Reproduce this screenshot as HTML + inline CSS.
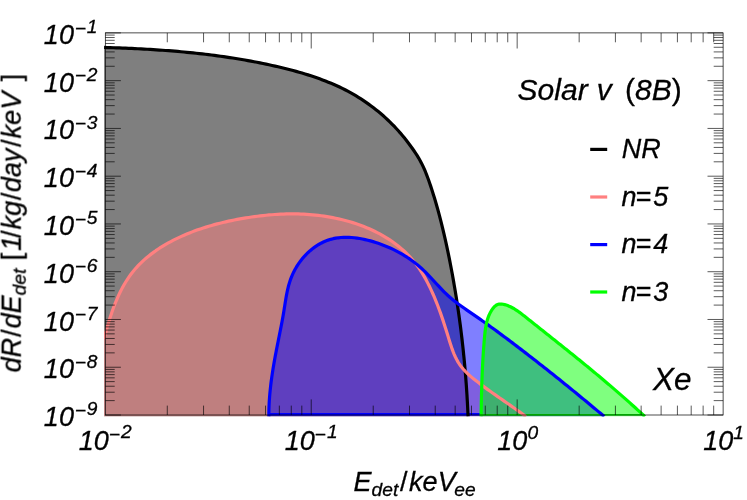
<!DOCTYPE html>
<html><head><meta charset="utf-8"><title>Solar nu 8B Xe</title>
<style>
html,body{margin:0;padding:0;background:#fff;}
body{width:747px;height:500px;overflow:hidden;}
svg{display:block;}
text{font-family:"Liberation Sans",sans-serif;font-style:italic;fill:#000;stroke:#000;stroke-width:0.3px;}
.up{font-style:normal;}
</style></head><body>
<svg width="747" height="500" viewBox="0 0 747 500">
<rect x="0" y="0" width="747" height="500" fill="#fff"/>
<defs><clipPath id="cp"><rect x="104.10" y="32.90" width="620.20" height="383.70"/></clipPath></defs>
<g clip-path="url(#cp)">
<path d="M103.94,47.43 L107.03,47.53 L110.12,47.63 L113.21,47.73 L116.30,47.84 L119.39,47.95 L122.48,48.07 L125.57,48.20 L128.65,48.33 L131.73,48.47 L134.82,48.62 L137.90,48.77 L140.98,48.93 L144.06,49.09 L147.14,49.27 L150.21,49.45 L153.29,49.64 L156.36,49.84 L159.44,50.04 L162.51,50.26 L165.58,50.48 L168.65,50.71 L171.72,50.95 L174.78,51.20 L177.85,51.46 L180.91,51.73 L183.97,52.01 L187.03,52.30 L190.09,52.60 L193.15,52.91 L196.21,53.23 L199.26,53.57 L202.31,53.91 L205.37,54.27 L208.42,54.63 L211.46,55.01 L214.51,55.41 L217.56,55.81 L220.60,56.23 L223.64,56.65 L226.68,57.10 L229.72,57.55 L232.76,58.02 L235.80,58.50 L238.83,59.00 L241.86,59.51 L244.89,60.04 L247.92,60.57 L250.95,61.13 L253.98,61.70 L257.00,62.28 L260.02,62.88 L263.04,63.50 L266.06,64.13 L269.08,64.77 L272.09,65.44 L275.11,66.12 L278.12,66.81 L281.13,67.52 L284.13,68.25 L287.14,69.00 L290.13,69.77 L293.13,70.56 L296.12,71.38 L299.10,72.21 L302.07,73.08 L305.03,73.96 L307.99,74.88 L310.93,75.82 L313.86,76.79 L316.78,77.80 L319.68,78.83 L322.57,79.90 L325.45,81.00 L328.31,82.14 L331.15,83.32 L333.97,84.53 L336.78,85.78 L339.56,87.07 L342.32,88.40 L345.06,89.78 L347.78,91.20 L350.47,92.66 L353.14,94.17 L355.79,95.72 L358.41,97.31 L361.00,98.95 L363.56,100.63 L366.10,102.35 L368.61,104.12 L371.09,105.92 L373.54,107.77 L375.96,109.66 L378.35,111.59 L380.71,113.56 L383.03,115.57 L385.32,117.62 L387.58,119.71 L389.81,121.85 L391.99,124.02 L394.15,126.23 L396.26,128.48 L398.34,130.77 L400.39,133.09 L402.39,135.46 L404.35,137.86 L406.28,140.29 L408.17,142.76 L410.03,145.25 L411.85,147.76 L413.64,150.29 L415.38,152.84 L417.06,155.42 L418.67,158.04 L420.19,160.70 L421.61,163.40 L422.95,166.15 L424.22,168.93 L425.42,171.74 L426.55,174.58 L427.64,177.45 L428.68,180.33 L429.69,183.23 L430.68,186.14 L431.64,189.05 L432.58,191.98 L433.50,194.91 L434.41,197.84 L435.29,200.79 L436.16,203.74 L437.01,206.70 L437.84,209.66 L438.65,212.63 L439.45,215.60 L440.23,218.58 L441.00,221.56 L441.75,224.55 L442.48,227.55 L443.20,230.54 L443.91,233.54 L444.60,236.55 L445.29,239.56 L445.95,242.57 L446.61,245.58 L447.25,248.60 L447.89,251.62 L448.51,254.64 L449.12,257.66 L449.72,260.68 L450.32,263.71 L450.90,266.74 L451.47,269.76 L452.04,272.79 L452.59,275.82 L453.14,278.85 L453.67,281.89 L454.20,284.92 L454.72,287.96 L455.22,290.99 L455.72,294.03 L456.21,297.07 L456.69,300.11 L457.16,303.15 L457.62,306.20 L458.07,309.24 L458.51,312.29 L458.94,315.34 L459.37,318.38 L459.78,321.43 L460.19,324.48 L460.58,327.53 L460.97,330.59 L461.34,333.64 L461.71,336.70 L462.07,339.75 L462.42,342.81 L462.76,345.87 L463.09,348.93 L463.41,351.99 L463.72,355.05 L464.03,358.12 L464.32,361.18 L464.60,364.24 L464.88,367.31 L465.15,370.38 L465.40,373.45 L465.65,376.52 L465.89,379.59 L466.12,382.66 L466.34,385.73 L466.56,388.81 L466.76,391.88 L466.96,394.96 L467.14,398.04 L467.32,401.11 L467.48,404.19 L467.64,407.27 L467.79,410.36 L467.93,413.44 L468.07,416.52 L104,416.5 Z" fill="#000" fill-opacity="0.5"/>
<path d="M104.03,338.86 L104.74,336.13 L105.48,333.39 L106.23,330.63 L107.01,327.86 L107.82,325.07 L108.65,322.28 L109.51,319.48 L110.40,316.68 L111.33,313.89 L112.29,311.09 L113.29,308.31 L114.33,305.55 L115.41,302.79 L116.54,300.06 L117.71,297.35 L118.93,294.66 L120.20,292.01 L121.53,289.39 L122.91,286.80 L124.35,284.26 L125.85,281.75 L127.41,279.29 L129.03,276.89 L130.72,274.53 L132.48,272.24 L134.31,270.00 L136.20,267.82 L138.16,265.69 L140.18,263.63 L142.26,261.62 L144.40,259.66 L146.59,257.76 L148.83,255.91 L151.12,254.12 L153.46,252.38 L155.84,250.68 L158.26,249.04 L160.71,247.45 L163.21,245.90 L165.73,244.41 L168.29,242.96 L170.87,241.55 L173.47,240.20 L176.10,238.88 L178.75,237.61 L181.41,236.38 L184.09,235.19 L186.79,234.05 L189.49,232.94 L192.21,231.88 L194.95,230.85 L197.69,229.86 L200.45,228.90 L203.22,227.98 L206.00,227.10 L208.79,226.25 L211.59,225.43 L214.40,224.65 L217.21,223.90 L220.04,223.18 L222.87,222.48 L225.72,221.82 L228.57,221.18 L231.42,220.58 L234.28,220.00 L237.15,219.44 L240.02,218.91 L242.90,218.40 L245.78,217.92 L248.66,217.46 L251.55,217.02 L254.44,216.61 L257.34,216.23 L260.23,215.87 L263.13,215.54 L266.04,215.24 L268.94,214.96 L271.85,214.72 L274.75,214.51 L277.66,214.32 L280.57,214.17 L283.48,214.05 L286.39,213.97 L289.30,213.92 L292.21,213.90 L295.12,213.92 L298.03,213.97 L300.94,214.06 L303.85,214.18 L306.75,214.35 L309.65,214.55 L312.56,214.79 L315.45,215.07 L318.35,215.39 L321.24,215.76 L324.14,216.16 L327.02,216.61 L329.91,217.10 L332.78,217.63 L335.66,218.21 L338.53,218.83 L341.39,219.50 L344.25,220.22 L347.10,220.98 L349.93,221.79 L352.75,222.65 L355.56,223.56 L358.35,224.51 L361.12,225.51 L363.87,226.57 L366.59,227.67 L369.29,228.82 L371.97,230.03 L374.61,231.28 L377.23,232.59 L379.82,233.95 L382.37,235.36 L384.88,236.83 L387.36,238.35 L389.80,239.92 L392.20,241.55 L394.55,243.24 L396.86,244.98 L399.13,246.77 L401.34,248.63 L403.51,250.54 L405.62,252.50 L407.68,254.53 L409.68,256.61 L411.63,258.76 L413.51,260.96 L415.34,263.22 L417.10,265.54 L418.80,267.92 L420.44,270.36 L422.02,272.84 L423.55,275.36 L425.02,277.92 L426.44,280.51 L427.81,283.13 L429.14,285.77 L430.42,288.43 L431.66,291.10 L432.86,293.77 L434.03,296.45 L435.15,299.14 L436.25,301.83 L437.32,304.52 L438.35,307.23 L439.36,309.94 L440.35,312.66 L441.31,315.39 L442.25,318.13 L443.18,320.88 L444.09,323.64 L444.98,326.41 L445.87,329.19 L446.74,331.99 L447.61,334.80 L448.47,337.63 L449.33,340.46 L450.21,343.29 L451.13,346.11 L452.09,348.90 L453.11,351.65 L454.21,354.36 L455.40,357.01 L456.69,359.59 L458.10,362.10 L459.64,364.51 L461.33,366.82 L463.15,369.03 L465.10,371.16 L467.15,373.21 L469.28,375.18 L471.50,377.10 L473.76,378.97 L476.07,380.80 L478.41,382.60 L480.75,384.38 L483.10,386.14 L485.46,387.87 L487.83,389.59 L490.21,391.30 L492.59,393.00 L494.97,394.68 L497.36,396.36 L499.75,398.03 L502.15,399.69 L504.54,401.36 L506.93,403.02 L509.33,404.68 L511.72,406.35 L514.10,408.02 L516.49,409.71 L518.87,411.40 L521.24,413.10 L523.61,414.82 L525.97,416.55 L104,416.5 Z" fill="#ff8080" fill-opacity="0.5"/>
<path d="M268.86,416.50 L268.86,413.82 L268.89,411.15 L268.96,408.47 L269.06,405.80 L269.18,403.13 L269.34,400.46 L269.52,397.79 L269.73,395.13 L269.97,392.46 L270.23,389.80 L270.52,387.14 L270.82,384.48 L271.15,381.82 L271.50,379.17 L271.87,376.52 L272.26,373.87 L272.67,371.22 L273.09,368.57 L273.52,365.93 L273.97,363.29 L274.44,360.65 L274.91,358.02 L275.40,355.39 L275.90,352.76 L276.40,350.13 L276.92,347.50 L277.44,344.88 L277.96,342.26 L278.49,339.64 L279.01,337.03 L279.54,334.41 L280.06,331.79 L280.58,329.17 L281.10,326.55 L281.60,323.92 L282.10,321.30 L282.58,318.66 L283.05,316.03 L283.50,313.39 L283.94,310.74 L284.36,308.09 L284.77,305.44 L285.19,302.79 L285.61,300.14 L286.06,297.49 L286.54,294.85 L287.06,292.23 L287.62,289.62 L288.25,287.02 L288.94,284.44 L289.72,281.89 L290.57,279.36 L291.53,276.85 L292.59,274.38 L293.74,271.94 L295.00,269.55 L296.34,267.20 L297.78,264.90 L299.31,262.65 L300.92,260.47 L302.61,258.36 L304.38,256.32 L306.23,254.35 L308.15,252.47 L310.14,250.68 L312.19,248.98 L314.31,247.37 L316.49,245.87 L318.73,244.48 L321.03,243.20 L323.37,242.04 L325.76,241.01 L328.20,240.10 L330.68,239.33 L333.21,238.69 L335.76,238.17 L338.35,237.79 L340.96,237.51 L343.60,237.36 L346.26,237.31 L348.93,237.36 L351.62,237.51 L354.31,237.76 L357.01,238.09 L359.70,238.50 L362.40,238.99 L365.08,239.56 L367.76,240.19 L370.41,240.89 L373.05,241.64 L375.67,242.45 L378.26,243.30 L380.82,244.20 L383.35,245.15 L385.85,246.14 L388.32,247.18 L390.76,248.27 L393.17,249.40 L395.56,250.59 L397.91,251.82 L400.23,253.09 L402.52,254.42 L404.77,255.79 L407.00,257.21 L409.19,258.68 L411.35,260.20 L413.48,261.77 L415.57,263.38 L417.63,265.05 L419.65,266.76 L421.64,268.52 L423.60,270.33 L425.52,272.19 L427.42,274.10 L429.28,276.03 L431.13,278.00 L432.97,279.98 L434.80,281.97 L436.63,283.97 L438.46,285.95 L440.31,287.93 L442.17,289.88 L444.05,291.80 L445.97,293.68 L447.92,295.51 L449.91,297.29 L451.93,299.01 L454.00,300.69 L456.09,302.33 L458.21,303.92 L460.36,305.49 L462.52,307.04 L464.70,308.56 L466.89,310.08 L469.09,311.59 L471.28,313.09 L473.48,314.60 L475.67,316.12 L477.86,317.64 L480.05,319.18 L482.23,320.71 L484.41,322.26 L486.58,323.81 L488.76,325.37 L490.93,326.94 L493.09,328.51 L495.25,330.08 L497.41,331.66 L499.57,333.25 L501.72,334.84 L503.87,336.44 L506.02,338.04 L508.17,339.65 L510.31,341.26 L512.45,342.87 L514.58,344.49 L516.71,346.11 L518.84,347.74 L520.97,349.37 L523.10,351.00 L525.22,352.63 L527.34,354.27 L529.46,355.91 L531.57,357.55 L533.68,359.20 L535.79,360.85 L537.90,362.49 L540.00,364.15 L542.11,365.80 L544.21,367.46 L546.30,369.11 L548.40,370.77 L550.49,372.44 L552.59,374.10 L554.67,375.77 L556.76,377.44 L558.85,379.11 L560.93,380.78 L563.01,382.46 L565.09,384.14 L567.17,385.82 L569.24,387.51 L571.32,389.19 L573.39,390.88 L575.46,392.57 L577.53,394.27 L579.60,395.97 L581.66,397.66 L583.73,399.37 L585.79,401.07 L587.85,402.78 L589.91,404.49 L591.96,406.20 L594.02,407.92 L596.08,409.64 L598.13,411.36 L600.18,413.08 L602.23,414.81 L604.28,416.54 Z" fill="#0000ff" fill-opacity="0.5"/>
<path d="M481.08,416.53 L481.11,414.99 L481.13,413.44 L481.15,411.90 L481.18,410.36 L481.20,408.82 L481.23,407.29 L481.26,405.76 L481.29,404.22 L481.32,402.70 L481.35,401.17 L481.38,399.65 L481.42,398.12 L481.45,396.60 L481.49,395.08 L481.53,393.56 L481.57,392.05 L481.61,390.53 L481.65,389.02 L481.70,387.50 L481.75,385.99 L481.79,384.48 L481.85,382.97 L481.90,381.45 L481.95,379.94 L482.01,378.43 L482.07,376.92 L482.13,375.41 L482.19,373.90 L482.26,372.39 L482.32,370.88 L482.39,369.37 L482.46,367.86 L482.54,366.35 L482.62,364.84 L482.69,363.32 L482.78,361.81 L482.86,360.29 L482.95,358.78 L483.04,357.26 L483.13,355.74 L483.23,354.22 L483.33,352.70 L483.43,351.18 L483.53,349.65 L483.64,348.13 L483.75,346.60 L483.87,345.07 L483.98,343.53 L484.10,342.00 L484.23,340.46 L484.36,338.92 L484.49,337.38 L484.63,335.83 L484.77,334.29 L484.94,332.75 L485.12,331.21 L485.32,329.68 L485.54,328.16 L485.79,326.64 L486.07,325.13 L486.38,323.64 L486.73,322.15 L487.12,320.68 L487.55,319.23 L488.03,317.80 L488.56,316.38 L489.14,314.98 L489.78,313.61 L490.47,312.26 L491.23,310.93 L492.06,309.63 L492.95,308.37 L493.92,307.19 L494.98,306.14 L496.12,305.25 L497.35,304.58 L498.68,304.15 L500.10,303.98 L501.58,304.03 L503.10,304.26 L504.63,304.62 L506.14,305.08 L507.62,305.60 L509.06,306.18 L510.46,306.81 L511.84,307.49 L513.18,308.22 L514.50,308.99 L515.79,309.79 L517.06,310.62 L518.32,311.49 L519.55,312.37 L520.78,313.28 L521.99,314.21 L523.19,315.14 L524.39,316.09 L525.59,317.04 L526.78,317.99 L527.97,318.94 L529.17,319.89 L530.36,320.84 L531.56,321.79 L532.75,322.74 L533.95,323.69 L535.14,324.64 L536.33,325.59 L537.53,326.54 L538.72,327.49 L539.92,328.44 L541.11,329.39 L542.31,330.33 L543.50,331.28 L544.69,332.23 L545.89,333.18 L547.08,334.13 L548.27,335.08 L549.46,336.03 L550.66,336.98 L551.85,337.93 L553.04,338.88 L554.23,339.83 L555.42,340.78 L556.61,341.73 L557.80,342.68 L558.99,343.63 L560.18,344.58 L561.37,345.53 L562.56,346.48 L563.75,347.43 L564.94,348.39 L566.13,349.34 L567.31,350.29 L568.50,351.25 L569.68,352.20 L570.87,353.16 L572.06,354.11 L573.24,355.07 L574.42,356.03 L575.61,356.98 L576.79,357.94 L577.97,358.90 L579.15,359.86 L580.33,360.82 L581.51,361.78 L582.69,362.75 L583.87,363.71 L585.05,364.67 L586.22,365.64 L587.40,366.60 L588.58,367.57 L589.75,368.54 L590.92,369.51 L592.10,370.47 L593.27,371.45 L594.44,372.42 L595.61,373.39 L596.78,374.36 L597.95,375.34 L599.12,376.31 L600.28,377.29 L601.45,378.27 L602.61,379.25 L603.78,380.23 L604.94,381.21 L606.10,382.19 L607.26,383.18 L608.42,384.16 L609.58,385.15 L610.74,386.14 L611.89,387.13 L613.05,388.12 L614.20,389.11 L615.36,390.11 L616.51,391.10 L617.66,392.10 L618.81,393.10 L619.96,394.10 L621.10,395.10 L622.25,396.11 L623.39,397.11 L624.54,398.12 L625.68,399.13 L626.82,400.14 L627.96,401.15 L629.09,402.16 L630.23,403.18 L631.36,404.20 L632.50,405.22 L633.63,406.24 L634.76,407.26 L635.89,408.28 L637.02,409.31 L638.14,410.34 L639.27,411.37 L640.39,412.40 L641.51,413.44 L642.63,414.48 L643.75,415.52 L644.87,416.56 Z" fill="#00ff00" fill-opacity="0.5"/>
<g fill="none" stroke-width="3.2" stroke-linejoin="round">
<path d="M268.9,414.3 L481.1,414.3" stroke="#0000ff" stroke-width="2.6"/>
<path d="M481.1,414.8 L644,414.8" stroke="#00ff00" stroke-width="1.6"/>
<path d="M103.94,47.43 L107.03,47.53 L110.12,47.63 L113.21,47.73 L116.30,47.84 L119.39,47.95 L122.48,48.07 L125.57,48.20 L128.65,48.33 L131.73,48.47 L134.82,48.62 L137.90,48.77 L140.98,48.93 L144.06,49.09 L147.14,49.27 L150.21,49.45 L153.29,49.64 L156.36,49.84 L159.44,50.04 L162.51,50.26 L165.58,50.48 L168.65,50.71 L171.72,50.95 L174.78,51.20 L177.85,51.46 L180.91,51.73 L183.97,52.01 L187.03,52.30 L190.09,52.60 L193.15,52.91 L196.21,53.23 L199.26,53.57 L202.31,53.91 L205.37,54.27 L208.42,54.63 L211.46,55.01 L214.51,55.41 L217.56,55.81 L220.60,56.23 L223.64,56.65 L226.68,57.10 L229.72,57.55 L232.76,58.02 L235.80,58.50 L238.83,59.00 L241.86,59.51 L244.89,60.04 L247.92,60.57 L250.95,61.13 L253.98,61.70 L257.00,62.28 L260.02,62.88 L263.04,63.50 L266.06,64.13 L269.08,64.77 L272.09,65.44 L275.11,66.12 L278.12,66.81 L281.13,67.52 L284.13,68.25 L287.14,69.00 L290.13,69.77 L293.13,70.56 L296.12,71.38 L299.10,72.21 L302.07,73.08 L305.03,73.96 L307.99,74.88 L310.93,75.82 L313.86,76.79 L316.78,77.80 L319.68,78.83 L322.57,79.90 L325.45,81.00 L328.31,82.14 L331.15,83.32 L333.97,84.53 L336.78,85.78 L339.56,87.07 L342.32,88.40 L345.06,89.78 L347.78,91.20 L350.47,92.66 L353.14,94.17 L355.79,95.72 L358.41,97.31 L361.00,98.95 L363.56,100.63 L366.10,102.35 L368.61,104.12 L371.09,105.92 L373.54,107.77 L375.96,109.66 L378.35,111.59 L380.71,113.56 L383.03,115.57 L385.32,117.62 L387.58,119.71 L389.81,121.85 L391.99,124.02 L394.15,126.23 L396.26,128.48 L398.34,130.77 L400.39,133.09 L402.39,135.46 L404.35,137.86 L406.28,140.29 L408.17,142.76 L410.03,145.25 L411.85,147.76 L413.64,150.29 L415.38,152.84 L417.06,155.42 L418.67,158.04 L420.19,160.70 L421.61,163.40 L422.95,166.15 L424.22,168.93 L425.42,171.74 L426.55,174.58 L427.64,177.45 L428.68,180.33 L429.69,183.23 L430.68,186.14 L431.64,189.05 L432.58,191.98 L433.50,194.91 L434.41,197.84 L435.29,200.79 L436.16,203.74 L437.01,206.70 L437.84,209.66 L438.65,212.63 L439.45,215.60 L440.23,218.58 L441.00,221.56 L441.75,224.55 L442.48,227.55 L443.20,230.54 L443.91,233.54 L444.60,236.55 L445.29,239.56 L445.95,242.57 L446.61,245.58 L447.25,248.60 L447.89,251.62 L448.51,254.64 L449.12,257.66 L449.72,260.68 L450.32,263.71 L450.90,266.74 L451.47,269.76 L452.04,272.79 L452.59,275.82 L453.14,278.85 L453.67,281.89 L454.20,284.92 L454.72,287.96 L455.22,290.99 L455.72,294.03 L456.21,297.07 L456.69,300.11 L457.16,303.15 L457.62,306.20 L458.07,309.24 L458.51,312.29 L458.94,315.34 L459.37,318.38 L459.78,321.43 L460.19,324.48 L460.58,327.53 L460.97,330.59 L461.34,333.64 L461.71,336.70 L462.07,339.75 L462.42,342.81 L462.76,345.87 L463.09,348.93 L463.41,351.99 L463.72,355.05 L464.03,358.12 L464.32,361.18 L464.60,364.24 L464.88,367.31 L465.15,370.38 L465.40,373.45 L465.65,376.52 L465.89,379.59 L466.12,382.66 L466.34,385.73 L466.56,388.81 L466.76,391.88 L466.96,394.96 L467.14,398.04 L467.32,401.11 L467.48,404.19 L467.64,407.27 L467.79,410.36 L467.93,413.44 L468.07,416.52" stroke="#000"/>
<path d="M104.03,338.86 L104.74,336.13 L105.48,333.39 L106.23,330.63 L107.01,327.86 L107.82,325.07 L108.65,322.28 L109.51,319.48 L110.40,316.68 L111.33,313.89 L112.29,311.09 L113.29,308.31 L114.33,305.55 L115.41,302.79 L116.54,300.06 L117.71,297.35 L118.93,294.66 L120.20,292.01 L121.53,289.39 L122.91,286.80 L124.35,284.26 L125.85,281.75 L127.41,279.29 L129.03,276.89 L130.72,274.53 L132.48,272.24 L134.31,270.00 L136.20,267.82 L138.16,265.69 L140.18,263.63 L142.26,261.62 L144.40,259.66 L146.59,257.76 L148.83,255.91 L151.12,254.12 L153.46,252.38 L155.84,250.68 L158.26,249.04 L160.71,247.45 L163.21,245.90 L165.73,244.41 L168.29,242.96 L170.87,241.55 L173.47,240.20 L176.10,238.88 L178.75,237.61 L181.41,236.38 L184.09,235.19 L186.79,234.05 L189.49,232.94 L192.21,231.88 L194.95,230.85 L197.69,229.86 L200.45,228.90 L203.22,227.98 L206.00,227.10 L208.79,226.25 L211.59,225.43 L214.40,224.65 L217.21,223.90 L220.04,223.18 L222.87,222.48 L225.72,221.82 L228.57,221.18 L231.42,220.58 L234.28,220.00 L237.15,219.44 L240.02,218.91 L242.90,218.40 L245.78,217.92 L248.66,217.46 L251.55,217.02 L254.44,216.61 L257.34,216.23 L260.23,215.87 L263.13,215.54 L266.04,215.24 L268.94,214.96 L271.85,214.72 L274.75,214.51 L277.66,214.32 L280.57,214.17 L283.48,214.05 L286.39,213.97 L289.30,213.92 L292.21,213.90 L295.12,213.92 L298.03,213.97 L300.94,214.06 L303.85,214.18 L306.75,214.35 L309.65,214.55 L312.56,214.79 L315.45,215.07 L318.35,215.39 L321.24,215.76 L324.14,216.16 L327.02,216.61 L329.91,217.10 L332.78,217.63 L335.66,218.21 L338.53,218.83 L341.39,219.50 L344.25,220.22 L347.10,220.98 L349.93,221.79 L352.75,222.65 L355.56,223.56 L358.35,224.51 L361.12,225.51 L363.87,226.57 L366.59,227.67 L369.29,228.82 L371.97,230.03 L374.61,231.28 L377.23,232.59 L379.82,233.95 L382.37,235.36 L384.88,236.83 L387.36,238.35 L389.80,239.92 L392.20,241.55 L394.55,243.24 L396.86,244.98 L399.13,246.77 L401.34,248.63 L403.51,250.54 L405.62,252.50 L407.68,254.53 L409.68,256.61 L411.63,258.76 L413.51,260.96 L415.34,263.22 L417.10,265.54 L418.80,267.92 L420.44,270.36 L422.02,272.84 L423.55,275.36 L425.02,277.92 L426.44,280.51 L427.81,283.13 L429.14,285.77 L430.42,288.43 L431.66,291.10 L432.86,293.77 L434.03,296.45 L435.15,299.14 L436.25,301.83 L437.32,304.52 L438.35,307.23 L439.36,309.94 L440.35,312.66 L441.31,315.39 L442.25,318.13 L443.18,320.88 L444.09,323.64 L444.98,326.41 L445.87,329.19 L446.74,331.99 L447.61,334.80 L448.47,337.63 L449.33,340.46 L450.21,343.29 L451.13,346.11 L452.09,348.90 L453.11,351.65 L454.21,354.36 L455.40,357.01 L456.69,359.59 L458.10,362.10 L459.64,364.51 L461.33,366.82 L463.15,369.03 L465.10,371.16 L467.15,373.21 L469.28,375.18 L471.50,377.10 L473.76,378.97 L476.07,380.80 L478.41,382.60 L480.75,384.38 L483.10,386.14 L485.46,387.87 L487.83,389.59 L490.21,391.30 L492.59,393.00 L494.97,394.68 L497.36,396.36 L499.75,398.03 L502.15,399.69 L504.54,401.36 L506.93,403.02 L509.33,404.68 L511.72,406.35 L514.10,408.02 L516.49,409.71 L518.87,411.40 L521.24,413.10 L523.61,414.82 L525.97,416.55" stroke="#ff8080"/>
<path d="M268.86,416.50 L268.86,413.82 L268.89,411.15 L268.96,408.47 L269.06,405.80 L269.18,403.13 L269.34,400.46 L269.52,397.79 L269.73,395.13 L269.97,392.46 L270.23,389.80 L270.52,387.14 L270.82,384.48 L271.15,381.82 L271.50,379.17 L271.87,376.52 L272.26,373.87 L272.67,371.22 L273.09,368.57 L273.52,365.93 L273.97,363.29 L274.44,360.65 L274.91,358.02 L275.40,355.39 L275.90,352.76 L276.40,350.13 L276.92,347.50 L277.44,344.88 L277.96,342.26 L278.49,339.64 L279.01,337.03 L279.54,334.41 L280.06,331.79 L280.58,329.17 L281.10,326.55 L281.60,323.92 L282.10,321.30 L282.58,318.66 L283.05,316.03 L283.50,313.39 L283.94,310.74 L284.36,308.09 L284.77,305.44 L285.19,302.79 L285.61,300.14 L286.06,297.49 L286.54,294.85 L287.06,292.23 L287.62,289.62 L288.25,287.02 L288.94,284.44 L289.72,281.89 L290.57,279.36 L291.53,276.85 L292.59,274.38 L293.74,271.94 L295.00,269.55 L296.34,267.20 L297.78,264.90 L299.31,262.65 L300.92,260.47 L302.61,258.36 L304.38,256.32 L306.23,254.35 L308.15,252.47 L310.14,250.68 L312.19,248.98 L314.31,247.37 L316.49,245.87 L318.73,244.48 L321.03,243.20 L323.37,242.04 L325.76,241.01 L328.20,240.10 L330.68,239.33 L333.21,238.69 L335.76,238.17 L338.35,237.79 L340.96,237.51 L343.60,237.36 L346.26,237.31 L348.93,237.36 L351.62,237.51 L354.31,237.76 L357.01,238.09 L359.70,238.50 L362.40,238.99 L365.08,239.56 L367.76,240.19 L370.41,240.89 L373.05,241.64 L375.67,242.45 L378.26,243.30 L380.82,244.20 L383.35,245.15 L385.85,246.14 L388.32,247.18 L390.76,248.27 L393.17,249.40 L395.56,250.59 L397.91,251.82 L400.23,253.09 L402.52,254.42 L404.77,255.79 L407.00,257.21 L409.19,258.68 L411.35,260.20 L413.48,261.77 L415.57,263.38 L417.63,265.05 L419.65,266.76 L421.64,268.52 L423.60,270.33 L425.52,272.19 L427.42,274.10 L429.28,276.03 L431.13,278.00 L432.97,279.98 L434.80,281.97 L436.63,283.97 L438.46,285.95 L440.31,287.93 L442.17,289.88 L444.05,291.80 L445.97,293.68 L447.92,295.51 L449.91,297.29 L451.93,299.01 L454.00,300.69 L456.09,302.33 L458.21,303.92 L460.36,305.49 L462.52,307.04 L464.70,308.56 L466.89,310.08 L469.09,311.59 L471.28,313.09 L473.48,314.60 L475.67,316.12 L477.86,317.64 L480.05,319.18 L482.23,320.71 L484.41,322.26 L486.58,323.81 L488.76,325.37 L490.93,326.94 L493.09,328.51 L495.25,330.08 L497.41,331.66 L499.57,333.25 L501.72,334.84 L503.87,336.44 L506.02,338.04 L508.17,339.65 L510.31,341.26 L512.45,342.87 L514.58,344.49 L516.71,346.11 L518.84,347.74 L520.97,349.37 L523.10,351.00 L525.22,352.63 L527.34,354.27 L529.46,355.91 L531.57,357.55 L533.68,359.20 L535.79,360.85 L537.90,362.49 L540.00,364.15 L542.11,365.80 L544.21,367.46 L546.30,369.11 L548.40,370.77 L550.49,372.44 L552.59,374.10 L554.67,375.77 L556.76,377.44 L558.85,379.11 L560.93,380.78 L563.01,382.46 L565.09,384.14 L567.17,385.82 L569.24,387.51 L571.32,389.19 L573.39,390.88 L575.46,392.57 L577.53,394.27 L579.60,395.97 L581.66,397.66 L583.73,399.37 L585.79,401.07 L587.85,402.78 L589.91,404.49 L591.96,406.20 L594.02,407.92 L596.08,409.64 L598.13,411.36 L600.18,413.08 L602.23,414.81 L604.28,416.54" stroke="#0000ff"/>
<path d="M481.08,416.53 L481.11,414.99 L481.13,413.44 L481.15,411.90 L481.18,410.36 L481.20,408.82 L481.23,407.29 L481.26,405.76 L481.29,404.22 L481.32,402.70 L481.35,401.17 L481.38,399.65 L481.42,398.12 L481.45,396.60 L481.49,395.08 L481.53,393.56 L481.57,392.05 L481.61,390.53 L481.65,389.02 L481.70,387.50 L481.75,385.99 L481.79,384.48 L481.85,382.97 L481.90,381.45 L481.95,379.94 L482.01,378.43 L482.07,376.92 L482.13,375.41 L482.19,373.90 L482.26,372.39 L482.32,370.88 L482.39,369.37 L482.46,367.86 L482.54,366.35 L482.62,364.84 L482.69,363.32 L482.78,361.81 L482.86,360.29 L482.95,358.78 L483.04,357.26 L483.13,355.74 L483.23,354.22 L483.33,352.70 L483.43,351.18 L483.53,349.65 L483.64,348.13 L483.75,346.60 L483.87,345.07 L483.98,343.53 L484.10,342.00 L484.23,340.46 L484.36,338.92 L484.49,337.38 L484.63,335.83 L484.77,334.29 L484.94,332.75 L485.12,331.21 L485.32,329.68 L485.54,328.16 L485.79,326.64 L486.07,325.13 L486.38,323.64 L486.73,322.15 L487.12,320.68 L487.55,319.23 L488.03,317.80 L488.56,316.38 L489.14,314.98 L489.78,313.61 L490.47,312.26 L491.23,310.93 L492.06,309.63 L492.95,308.37 L493.92,307.19 L494.98,306.14 L496.12,305.25 L497.35,304.58 L498.68,304.15 L500.10,303.98 L501.58,304.03 L503.10,304.26 L504.63,304.62 L506.14,305.08 L507.62,305.60 L509.06,306.18 L510.46,306.81 L511.84,307.49 L513.18,308.22 L514.50,308.99 L515.79,309.79 L517.06,310.62 L518.32,311.49 L519.55,312.37 L520.78,313.28 L521.99,314.21 L523.19,315.14 L524.39,316.09 L525.59,317.04 L526.78,317.99 L527.97,318.94 L529.17,319.89 L530.36,320.84 L531.56,321.79 L532.75,322.74 L533.95,323.69 L535.14,324.64 L536.33,325.59 L537.53,326.54 L538.72,327.49 L539.92,328.44 L541.11,329.39 L542.31,330.33 L543.50,331.28 L544.69,332.23 L545.89,333.18 L547.08,334.13 L548.27,335.08 L549.46,336.03 L550.66,336.98 L551.85,337.93 L553.04,338.88 L554.23,339.83 L555.42,340.78 L556.61,341.73 L557.80,342.68 L558.99,343.63 L560.18,344.58 L561.37,345.53 L562.56,346.48 L563.75,347.43 L564.94,348.39 L566.13,349.34 L567.31,350.29 L568.50,351.25 L569.68,352.20 L570.87,353.16 L572.06,354.11 L573.24,355.07 L574.42,356.03 L575.61,356.98 L576.79,357.94 L577.97,358.90 L579.15,359.86 L580.33,360.82 L581.51,361.78 L582.69,362.75 L583.87,363.71 L585.05,364.67 L586.22,365.64 L587.40,366.60 L588.58,367.57 L589.75,368.54 L590.92,369.51 L592.10,370.47 L593.27,371.45 L594.44,372.42 L595.61,373.39 L596.78,374.36 L597.95,375.34 L599.12,376.31 L600.28,377.29 L601.45,378.27 L602.61,379.25 L603.78,380.23 L604.94,381.21 L606.10,382.19 L607.26,383.18 L608.42,384.16 L609.58,385.15 L610.74,386.14 L611.89,387.13 L613.05,388.12 L614.20,389.11 L615.36,390.11 L616.51,391.10 L617.66,392.10 L618.81,393.10 L619.96,394.10 L621.10,395.10 L622.25,396.11 L623.39,397.11 L624.54,398.12 L625.68,399.13 L626.82,400.14 L627.96,401.15 L629.09,402.16 L630.23,403.18 L631.36,404.20 L632.50,405.22 L633.63,406.24 L634.76,407.26 L635.89,408.28 L637.02,409.31 L638.14,410.34 L639.27,411.37 L640.39,412.40 L641.51,413.44 L642.63,414.48 L643.75,415.52 L644.87,416.56" stroke="#00ff00"/>
</g>
</g>
<g stroke="#000" stroke-width="0.65" fill="none">
<line x1="167.29" y1="415.00" x2="167.29" y2="405.60"/>
<line x1="167.29" y1="32.90" x2="167.29" y2="42.30"/>
<line x1="203.56" y1="415.00" x2="203.56" y2="405.60"/>
<line x1="203.56" y1="32.90" x2="203.56" y2="42.30"/>
<line x1="229.28" y1="415.00" x2="229.28" y2="405.60"/>
<line x1="229.28" y1="32.90" x2="229.28" y2="42.30"/>
<line x1="249.24" y1="415.00" x2="249.24" y2="405.60"/>
<line x1="249.24" y1="32.90" x2="249.24" y2="42.30"/>
<line x1="265.55" y1="415.00" x2="265.55" y2="405.60"/>
<line x1="265.55" y1="32.90" x2="265.55" y2="42.30"/>
<line x1="279.33" y1="415.00" x2="279.33" y2="405.60"/>
<line x1="279.33" y1="32.90" x2="279.33" y2="42.30"/>
<line x1="291.28" y1="415.00" x2="291.28" y2="405.60"/>
<line x1="291.28" y1="32.90" x2="291.28" y2="42.30"/>
<line x1="301.81" y1="415.00" x2="301.81" y2="405.60"/>
<line x1="301.81" y1="32.90" x2="301.81" y2="42.30"/>
<line x1="311.23" y1="415.00" x2="311.23" y2="399.40"/>
<line x1="311.23" y1="32.90" x2="311.23" y2="48.50"/>
<line x1="373.23" y1="415.00" x2="373.23" y2="405.60"/>
<line x1="373.23" y1="32.90" x2="373.23" y2="42.30"/>
<line x1="409.49" y1="415.00" x2="409.49" y2="405.60"/>
<line x1="409.49" y1="32.90" x2="409.49" y2="42.30"/>
<line x1="435.22" y1="415.00" x2="435.22" y2="405.60"/>
<line x1="435.22" y1="32.90" x2="435.22" y2="42.30"/>
<line x1="455.17" y1="415.00" x2="455.17" y2="405.60"/>
<line x1="455.17" y1="32.90" x2="455.17" y2="42.30"/>
<line x1="471.48" y1="415.00" x2="471.48" y2="405.60"/>
<line x1="471.48" y1="32.90" x2="471.48" y2="42.30"/>
<line x1="485.27" y1="415.00" x2="485.27" y2="405.60"/>
<line x1="485.27" y1="32.90" x2="485.27" y2="42.30"/>
<line x1="497.21" y1="415.00" x2="497.21" y2="405.60"/>
<line x1="497.21" y1="32.90" x2="497.21" y2="42.30"/>
<line x1="507.74" y1="415.00" x2="507.74" y2="405.60"/>
<line x1="507.74" y1="32.90" x2="507.74" y2="42.30"/>
<line x1="517.17" y1="415.00" x2="517.17" y2="399.40"/>
<line x1="517.17" y1="32.90" x2="517.17" y2="48.50"/>
<line x1="579.16" y1="415.00" x2="579.16" y2="405.60"/>
<line x1="579.16" y1="32.90" x2="579.16" y2="42.30"/>
<line x1="615.42" y1="415.00" x2="615.42" y2="405.60"/>
<line x1="615.42" y1="32.90" x2="615.42" y2="42.30"/>
<line x1="641.15" y1="415.00" x2="641.15" y2="405.60"/>
<line x1="641.15" y1="32.90" x2="641.15" y2="42.30"/>
<line x1="661.11" y1="415.00" x2="661.11" y2="405.60"/>
<line x1="661.11" y1="32.90" x2="661.11" y2="42.30"/>
<line x1="677.41" y1="415.00" x2="677.41" y2="405.60"/>
<line x1="677.41" y1="32.90" x2="677.41" y2="42.30"/>
<line x1="691.20" y1="415.00" x2="691.20" y2="405.60"/>
<line x1="691.20" y1="32.90" x2="691.20" y2="42.30"/>
<line x1="703.14" y1="415.00" x2="703.14" y2="405.60"/>
<line x1="703.14" y1="32.90" x2="703.14" y2="42.30"/>
<line x1="713.68" y1="415.00" x2="713.68" y2="405.60"/>
<line x1="713.68" y1="32.90" x2="713.68" y2="42.30"/>
<line x1="105.30" y1="32.90" x2="120.90" y2="32.90"/>
<line x1="723.10" y1="32.90" x2="707.50" y2="32.90"/>
<line x1="105.30" y1="66.28" x2="114.70" y2="66.28"/>
<line x1="723.10" y1="66.28" x2="713.70" y2="66.28"/>
<line x1="105.30" y1="57.87" x2="114.70" y2="57.87"/>
<line x1="723.10" y1="57.87" x2="713.70" y2="57.87"/>
<line x1="105.30" y1="51.91" x2="114.70" y2="51.91"/>
<line x1="723.10" y1="51.91" x2="713.70" y2="51.91"/>
<line x1="105.30" y1="47.28" x2="114.70" y2="47.28"/>
<line x1="723.10" y1="47.28" x2="713.70" y2="47.28"/>
<line x1="105.30" y1="43.50" x2="114.70" y2="43.50"/>
<line x1="723.10" y1="43.50" x2="713.70" y2="43.50"/>
<line x1="105.30" y1="40.30" x2="114.70" y2="40.30"/>
<line x1="723.10" y1="40.30" x2="713.70" y2="40.30"/>
<line x1="105.30" y1="37.53" x2="114.70" y2="37.53"/>
<line x1="723.10" y1="37.53" x2="713.70" y2="37.53"/>
<line x1="105.30" y1="35.09" x2="114.70" y2="35.09"/>
<line x1="723.10" y1="35.09" x2="713.70" y2="35.09"/>
<line x1="105.30" y1="80.66" x2="120.90" y2="80.66"/>
<line x1="723.10" y1="80.66" x2="707.50" y2="80.66"/>
<line x1="105.30" y1="114.05" x2="114.70" y2="114.05"/>
<line x1="723.10" y1="114.05" x2="713.70" y2="114.05"/>
<line x1="105.30" y1="105.64" x2="114.70" y2="105.64"/>
<line x1="723.10" y1="105.64" x2="713.70" y2="105.64"/>
<line x1="105.30" y1="99.67" x2="114.70" y2="99.67"/>
<line x1="723.10" y1="99.67" x2="713.70" y2="99.67"/>
<line x1="105.30" y1="95.04" x2="114.70" y2="95.04"/>
<line x1="723.10" y1="95.04" x2="713.70" y2="95.04"/>
<line x1="105.30" y1="91.26" x2="114.70" y2="91.26"/>
<line x1="723.10" y1="91.26" x2="713.70" y2="91.26"/>
<line x1="105.30" y1="88.06" x2="114.70" y2="88.06"/>
<line x1="723.10" y1="88.06" x2="713.70" y2="88.06"/>
<line x1="105.30" y1="85.29" x2="114.70" y2="85.29"/>
<line x1="723.10" y1="85.29" x2="713.70" y2="85.29"/>
<line x1="105.30" y1="82.85" x2="114.70" y2="82.85"/>
<line x1="723.10" y1="82.85" x2="713.70" y2="82.85"/>
<line x1="105.30" y1="128.43" x2="120.90" y2="128.43"/>
<line x1="723.10" y1="128.43" x2="707.50" y2="128.43"/>
<line x1="105.30" y1="161.81" x2="114.70" y2="161.81"/>
<line x1="723.10" y1="161.81" x2="713.70" y2="161.81"/>
<line x1="105.30" y1="153.40" x2="114.70" y2="153.40"/>
<line x1="723.10" y1="153.40" x2="713.70" y2="153.40"/>
<line x1="105.30" y1="147.43" x2="114.70" y2="147.43"/>
<line x1="723.10" y1="147.43" x2="713.70" y2="147.43"/>
<line x1="105.30" y1="142.80" x2="114.70" y2="142.80"/>
<line x1="723.10" y1="142.80" x2="713.70" y2="142.80"/>
<line x1="105.30" y1="139.02" x2="114.70" y2="139.02"/>
<line x1="723.10" y1="139.02" x2="713.70" y2="139.02"/>
<line x1="105.30" y1="135.82" x2="114.70" y2="135.82"/>
<line x1="723.10" y1="135.82" x2="713.70" y2="135.82"/>
<line x1="105.30" y1="133.05" x2="114.70" y2="133.05"/>
<line x1="723.10" y1="133.05" x2="713.70" y2="133.05"/>
<line x1="105.30" y1="130.61" x2="114.70" y2="130.61"/>
<line x1="723.10" y1="130.61" x2="713.70" y2="130.61"/>
<line x1="105.30" y1="176.19" x2="120.90" y2="176.19"/>
<line x1="723.10" y1="176.19" x2="707.50" y2="176.19"/>
<line x1="105.30" y1="209.57" x2="114.70" y2="209.57"/>
<line x1="723.10" y1="209.57" x2="713.70" y2="209.57"/>
<line x1="105.30" y1="201.16" x2="114.70" y2="201.16"/>
<line x1="723.10" y1="201.16" x2="713.70" y2="201.16"/>
<line x1="105.30" y1="195.19" x2="114.70" y2="195.19"/>
<line x1="723.10" y1="195.19" x2="713.70" y2="195.19"/>
<line x1="105.30" y1="190.57" x2="114.70" y2="190.57"/>
<line x1="723.10" y1="190.57" x2="713.70" y2="190.57"/>
<line x1="105.30" y1="186.78" x2="114.70" y2="186.78"/>
<line x1="723.10" y1="186.78" x2="713.70" y2="186.78"/>
<line x1="105.30" y1="183.59" x2="114.70" y2="183.59"/>
<line x1="723.10" y1="183.59" x2="713.70" y2="183.59"/>
<line x1="105.30" y1="180.82" x2="114.70" y2="180.82"/>
<line x1="723.10" y1="180.82" x2="713.70" y2="180.82"/>
<line x1="105.30" y1="178.37" x2="114.70" y2="178.37"/>
<line x1="723.10" y1="178.37" x2="713.70" y2="178.37"/>
<line x1="105.30" y1="223.95" x2="120.90" y2="223.95"/>
<line x1="723.10" y1="223.95" x2="707.50" y2="223.95"/>
<line x1="105.30" y1="257.33" x2="114.70" y2="257.33"/>
<line x1="723.10" y1="257.33" x2="713.70" y2="257.33"/>
<line x1="105.30" y1="248.92" x2="114.70" y2="248.92"/>
<line x1="723.10" y1="248.92" x2="713.70" y2="248.92"/>
<line x1="105.30" y1="242.96" x2="114.70" y2="242.96"/>
<line x1="723.10" y1="242.96" x2="713.70" y2="242.96"/>
<line x1="105.30" y1="238.33" x2="114.70" y2="238.33"/>
<line x1="723.10" y1="238.33" x2="713.70" y2="238.33"/>
<line x1="105.30" y1="234.55" x2="114.70" y2="234.55"/>
<line x1="723.10" y1="234.55" x2="713.70" y2="234.55"/>
<line x1="105.30" y1="231.35" x2="114.70" y2="231.35"/>
<line x1="723.10" y1="231.35" x2="713.70" y2="231.35"/>
<line x1="105.30" y1="228.58" x2="114.70" y2="228.58"/>
<line x1="723.10" y1="228.58" x2="713.70" y2="228.58"/>
<line x1="105.30" y1="226.14" x2="114.70" y2="226.14"/>
<line x1="723.10" y1="226.14" x2="713.70" y2="226.14"/>
<line x1="105.30" y1="271.71" x2="120.90" y2="271.71"/>
<line x1="723.10" y1="271.71" x2="707.50" y2="271.71"/>
<line x1="105.30" y1="305.10" x2="114.70" y2="305.10"/>
<line x1="723.10" y1="305.10" x2="713.70" y2="305.10"/>
<line x1="105.30" y1="296.69" x2="114.70" y2="296.69"/>
<line x1="723.10" y1="296.69" x2="713.70" y2="296.69"/>
<line x1="105.30" y1="290.72" x2="114.70" y2="290.72"/>
<line x1="723.10" y1="290.72" x2="713.70" y2="290.72"/>
<line x1="105.30" y1="286.09" x2="114.70" y2="286.09"/>
<line x1="723.10" y1="286.09" x2="713.70" y2="286.09"/>
<line x1="105.30" y1="282.31" x2="114.70" y2="282.31"/>
<line x1="723.10" y1="282.31" x2="713.70" y2="282.31"/>
<line x1="105.30" y1="279.11" x2="114.70" y2="279.11"/>
<line x1="723.10" y1="279.11" x2="713.70" y2="279.11"/>
<line x1="105.30" y1="276.34" x2="114.70" y2="276.34"/>
<line x1="723.10" y1="276.34" x2="713.70" y2="276.34"/>
<line x1="105.30" y1="273.90" x2="114.70" y2="273.90"/>
<line x1="723.10" y1="273.90" x2="713.70" y2="273.90"/>
<line x1="105.30" y1="319.48" x2="120.90" y2="319.48"/>
<line x1="723.10" y1="319.48" x2="707.50" y2="319.48"/>
<line x1="105.30" y1="352.86" x2="114.70" y2="352.86"/>
<line x1="723.10" y1="352.86" x2="713.70" y2="352.86"/>
<line x1="105.30" y1="344.45" x2="114.70" y2="344.45"/>
<line x1="723.10" y1="344.45" x2="713.70" y2="344.45"/>
<line x1="105.30" y1="338.48" x2="114.70" y2="338.48"/>
<line x1="723.10" y1="338.48" x2="713.70" y2="338.48"/>
<line x1="105.30" y1="333.85" x2="114.70" y2="333.85"/>
<line x1="723.10" y1="333.85" x2="713.70" y2="333.85"/>
<line x1="105.30" y1="330.07" x2="114.70" y2="330.07"/>
<line x1="723.10" y1="330.07" x2="713.70" y2="330.07"/>
<line x1="105.30" y1="326.87" x2="114.70" y2="326.87"/>
<line x1="723.10" y1="326.87" x2="713.70" y2="326.87"/>
<line x1="105.30" y1="324.10" x2="114.70" y2="324.10"/>
<line x1="723.10" y1="324.10" x2="713.70" y2="324.10"/>
<line x1="105.30" y1="321.66" x2="114.70" y2="321.66"/>
<line x1="723.10" y1="321.66" x2="713.70" y2="321.66"/>
<line x1="105.30" y1="367.24" x2="120.90" y2="367.24"/>
<line x1="723.10" y1="367.24" x2="707.50" y2="367.24"/>
<line x1="105.30" y1="400.62" x2="114.70" y2="400.62"/>
<line x1="723.10" y1="400.62" x2="713.70" y2="400.62"/>
<line x1="105.30" y1="392.21" x2="114.70" y2="392.21"/>
<line x1="723.10" y1="392.21" x2="713.70" y2="392.21"/>
<line x1="105.30" y1="386.24" x2="114.70" y2="386.24"/>
<line x1="723.10" y1="386.24" x2="713.70" y2="386.24"/>
<line x1="105.30" y1="381.62" x2="114.70" y2="381.62"/>
<line x1="723.10" y1="381.62" x2="713.70" y2="381.62"/>
<line x1="105.30" y1="377.83" x2="114.70" y2="377.83"/>
<line x1="723.10" y1="377.83" x2="713.70" y2="377.83"/>
<line x1="105.30" y1="374.64" x2="114.70" y2="374.64"/>
<line x1="723.10" y1="374.64" x2="713.70" y2="374.64"/>
<line x1="105.30" y1="371.87" x2="114.70" y2="371.87"/>
<line x1="723.10" y1="371.87" x2="713.70" y2="371.87"/>
<line x1="105.30" y1="369.42" x2="114.70" y2="369.42"/>
<line x1="723.10" y1="369.42" x2="713.70" y2="369.42"/>
<line x1="105.30" y1="415.00" x2="120.90" y2="415.00"/>
<line x1="723.10" y1="415.00" x2="707.50" y2="415.00"/>
<rect x="105.30" y="32.90" width="617.80" height="382.10" stroke-width="0.7"/>
</g>
<g opacity="0.999">
<text x="97.5" y="43.9" text-anchor="end" font-size="27.0">10<tspan font-size="19.2" dx="1.0" dy="-9.4">−</tspan><tspan font-size="19.2" dx="0.7" dy="-1.2">1</tspan></text>
<text x="97.5" y="91.7" text-anchor="end" font-size="27.0">10<tspan font-size="19.2" dx="1.0" dy="-9.4">−</tspan><tspan font-size="19.2" dx="0.7" dy="-1.2">2</tspan></text>
<text x="97.5" y="139.4" text-anchor="end" font-size="27.0">10<tspan font-size="19.2" dx="1.0" dy="-9.4">−</tspan><tspan font-size="19.2" dx="0.7" dy="-1.2">3</tspan></text>
<text x="97.5" y="187.2" text-anchor="end" font-size="27.0">10<tspan font-size="19.2" dx="1.0" dy="-9.4">−</tspan><tspan font-size="19.2" dx="0.7" dy="-1.2">4</tspan></text>
<text x="97.5" y="235.0" text-anchor="end" font-size="27.0">10<tspan font-size="19.2" dx="1.0" dy="-9.4">−</tspan><tspan font-size="19.2" dx="0.7" dy="-1.2">5</tspan></text>
<text x="97.5" y="282.7" text-anchor="end" font-size="27.0">10<tspan font-size="19.2" dx="1.0" dy="-9.4">−</tspan><tspan font-size="19.2" dx="0.7" dy="-1.2">6</tspan></text>
<text x="97.5" y="330.5" text-anchor="end" font-size="27.0">10<tspan font-size="19.2" dx="1.0" dy="-9.4">−</tspan><tspan font-size="19.2" dx="0.7" dy="-1.2">7</tspan></text>
<text x="97.5" y="378.2" text-anchor="end" font-size="27.0">10<tspan font-size="19.2" dx="1.0" dy="-9.4">−</tspan><tspan font-size="19.2" dx="0.7" dy="-1.2">8</tspan></text>
<text x="97.5" y="426.0" text-anchor="end" font-size="27.0">10<tspan font-size="19.2" dx="1.0" dy="-9.4">−</tspan><tspan font-size="19.2" dx="0.7" dy="-1.2">9</tspan></text>
<text x="105.3" y="450.0" text-anchor="middle" font-size="27.0">10<tspan font-size="19.2" dy="-9.5">−</tspan><tspan font-size="19.2" dx="1.0" dy="-2.1">2</tspan></text>
<text x="311.2" y="450.0" text-anchor="middle" font-size="27.0">10<tspan font-size="19.2" dy="-9.5">−</tspan><tspan font-size="19.2" dx="1.0" dy="-2.1">1</tspan></text>
<text x="517.7" y="450.0" text-anchor="middle" font-size="27.0">10<tspan font-size="19.2" dy="-11.2">0</tspan></text>
<text x="723.6" y="450.0" text-anchor="middle" font-size="27.0">10<tspan font-size="19.2" dy="-11.2">1</tspan></text>
<text x="353.6" y="490.9" font-size="27"><tspan>E</tspan><tspan dy="5.30" font-size="19.2">det</tspan><tspan dx="1.60" dy="-5.30" class="up">/</tspan><tspan dx="1.70">keV</tspan><tspan dx="-1.30" dy="5.30" font-size="19.2">ee</tspan></text>
<text transform="translate(20.7,372.4) rotate(-90)" x="0" y="0" font-size="27"><tspan>dR</tspan><tspan dx="1.00" class="up">/</tspan><tspan dx="1.00">dE</tspan><tspan dy="5.30" font-size="19.2">det</tspan><tspan dx="8.30" dy="-5.30" class="up">[</tspan><tspan dx="2.00">1</tspan><tspan dx="-2.10" class="up">/</tspan><tspan dx="1.10">kg</tspan><tspan dx="0.50" class="up">/</tspan><tspan dx="0.50">day</tspan><tspan dx="1.70" class="up">/</tspan><tspan dx="1.20">keV</tspan><tspan dx="10.30" class="up">]</tspan></text>
<text x="517.6" y="100" font-size="30">Solar<tspan dx="9">v</tspan><tspan dx="13.4" class="up">(</tspan>8B<tspan class="up">)</tspan></text>
<line x1="590.2" y1="149.4" x2="607.2" y2="149.4" stroke="#000" stroke-width="3.2"/>
<text x="621.7" y="158.3" font-size="27">NR</text>
<line x1="590.2" y1="197.0" x2="607.2" y2="197.0" stroke="#ff8080" stroke-width="3.2"/>
<text x="621.6" y="205.8" font-size="27">n<tspan class="up" dx="-1.0">=</tspan><tspan dx="1.9">5</tspan></text>
<line x1="590.2" y1="244.6" x2="607.2" y2="244.6" stroke="#0000ff" stroke-width="3.2"/>
<text x="621.6" y="253.3" font-size="27">n<tspan class="up" dx="-1.0">=</tspan><tspan dx="1.9">4</tspan></text>
<line x1="590.2" y1="292.0" x2="607.2" y2="292.0" stroke="#00ff00" stroke-width="3.2"/>
<text x="621.6" y="300.8" font-size="27">n<tspan class="up" dx="-1.0">=</tspan><tspan dx="1.9">3</tspan></text>
<text x="653.0" y="390.2" font-size="31.5">Xe</text>
</g>
</svg>
</body></html>
